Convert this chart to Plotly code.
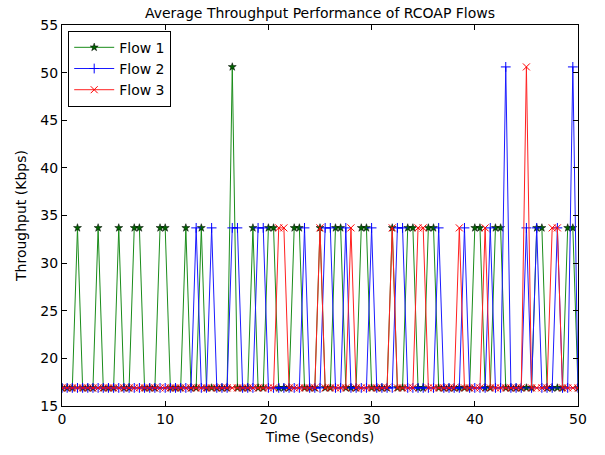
import plotly.graph_objects as go

# Time axis (seconds), sampled every 0.5 s
time_s = [i * 0.5 for i in range(101)]

# Throughput levels (Kbps)
LOW, HIGH, PEAK = 16.9, 33.7, 50.6

# Throughput samples, 10 samples per row (5 s each)
# 0 = low level, 1 = high level, 2 = peak level
flow1_levels = [0, 0, 0, 1, 0, 0, 0, 1, 0, 0,
                0, 1, 0, 0, 1, 1, 0, 0, 0, 1,
                1, 0, 0, 0, 1, 0, 0, 1, 0, 0,
                0, 0, 0, 2, 0, 0, 0, 1, 0, 0,
                1, 1, 0, 0, 0, 1, 1, 0, 0, 0,
                1, 0, 0, 1, 1, 0, 0, 0, 1, 1,
                0, 0, 0, 0, 1, 0, 0, 1, 1, 0,
                0, 1, 1, 0, 0, 0, 0, 0, 0, 0,
                1, 1, 0, 0, 1, 1, 0, 0, 0, 0,
                0, 0, 1, 1, 0, 0, 0, 0, 1, 1,
                0]

flow2_levels = [0, 0, 0, 0, 0, 0, 0, 0, 0, 0,
                0, 0, 0, 0, 0, 0, 0, 0, 0, 0,
                0, 0, 0, 0, 0, 0, 1, 0, 0, 1,
                0, 0, 0, 1, 1, 0, 0, 0, 1, 1,
                0, 0, 0, 0, 0, 0, 0, 1, 0, 0,
                0, 1, 1, 0, 0, 1, 0, 0, 0, 0,
                1, 0, 0, 0, 0, 1, 1, 0, 0, 0,
                0, 0, 0, 1, 0, 0, 0, 0, 1, 0,
                0, 0, 0, 1, 0, 0, 2, 0, 0, 0,
                1, 0, 1, 0, 0, 0, 1, 0, 0, 2,
                0]

flow3_levels = [0, 0, 0, 0, 0, 0, 0, 0, 0, 0,
                0, 0, 0, 0, 0, 0, 0, 0, 0, 0,
                0, 0, 0, 0, 0, 0, 0, 0, 0, 0,
                0, 0, 0, 0, 0, 0, 0, 0, 0, 0,
                0, 0, 1, 1, 0, 0, 0, 0, 0, 0,
                1, 0, 0, 0, 0, 0, 1, 0, 0, 0,
                0, 0, 0, 0, 1, 0, 0, 0, 0, 1,
                1, 0, 0, 0, 0, 0, 0, 1, 0, 0,
                0, 0, 1, 0, 0, 0, 0, 0, 0, 0,
                2, 0, 0, 0, 0, 1, 1, 0, 0, 0,
                0]

level_values = [LOW, HIGH, PEAK]
flow1 = [level_values[v] for v in flow1_levels]
flow2 = [level_values[v] for v in flow2_levels]
flow3 = [level_values[v] for v in flow3_levels]

series_names = ["Flow 1", "Flow 2", "Flow 3"]

fig = go.Figure()
fig.add_trace(go.Scatter(
    x=time_s, y=flow1, name=series_names[0], mode="lines+markers",
    line=dict(color="#1a8c1a", width=1),
    marker=dict(symbol="star", size=6, color="#006400", line=dict(color="#000000", width=0.5)),
))
fig.add_trace(go.Scatter(
    x=time_s, y=flow2, name=series_names[1], mode="lines+markers",
    line=dict(color="#1a1aff", width=1),
    marker=dict(symbol="cross-thin-open", size=7, color="#0000ff", line=dict(color="#0000ff", width=1)),
))
fig.add_trace(go.Scatter(
    x=time_s, y=flow3, name=series_names[2], mode="lines+markers",
    line=dict(color="#ff2020", width=1),
    marker=dict(symbol="x-thin-open", size=7, color="#ff0000", line=dict(color="#ff0000", width=1)),
))

axis_common = dict(
    showgrid=False, zeroline=False, showline=True, linecolor="black", linewidth=1,
    mirror="allticks", ticks="inside", ticklen=5, tickcolor="black",
    tickfont=dict(family="DejaVu Sans", size=14, color="black"),
)

fig.update_layout(
    width=605, height=455,
    margin=dict(l=62, r=27, t=25, b=42),
    paper_bgcolor="white", plot_bgcolor="white",
    font=dict(family="DejaVu Sans", size=14, color="black"),
    title=dict(text="Average Throughput Performance of RCOAP Flows",
               x=0.5, xref="paper", xanchor="center", y=0.972, yanchor="middle",
               font=dict(family="DejaVu Sans", size=14, color="black")),
    xaxis=dict(range=[0, 50], tickmode="linear", tick0=0, dtick=10,
               title=dict(text="Time (Seconds)", standoff=6,
                          font=dict(family="DejaVu Sans", size=14)), **axis_common),
    yaxis=dict(range=[15, 55], tickmode="linear", tick0=15, dtick=5,
               title=dict(text="Throughput (Kbps)", standoff=10,
                          font=dict(family="DejaVu Sans", size=14)), **axis_common),
    legend=dict(x=0.012, y=0.985, xanchor="left", yanchor="top",
                bgcolor="white", bordercolor="black", borderwidth=1,
                font=dict(family="DejaVu Sans", size=14), tracegroupgap=0,
                itemwidth=40),
    showlegend=True,
)

fig.write_html("out.html")
